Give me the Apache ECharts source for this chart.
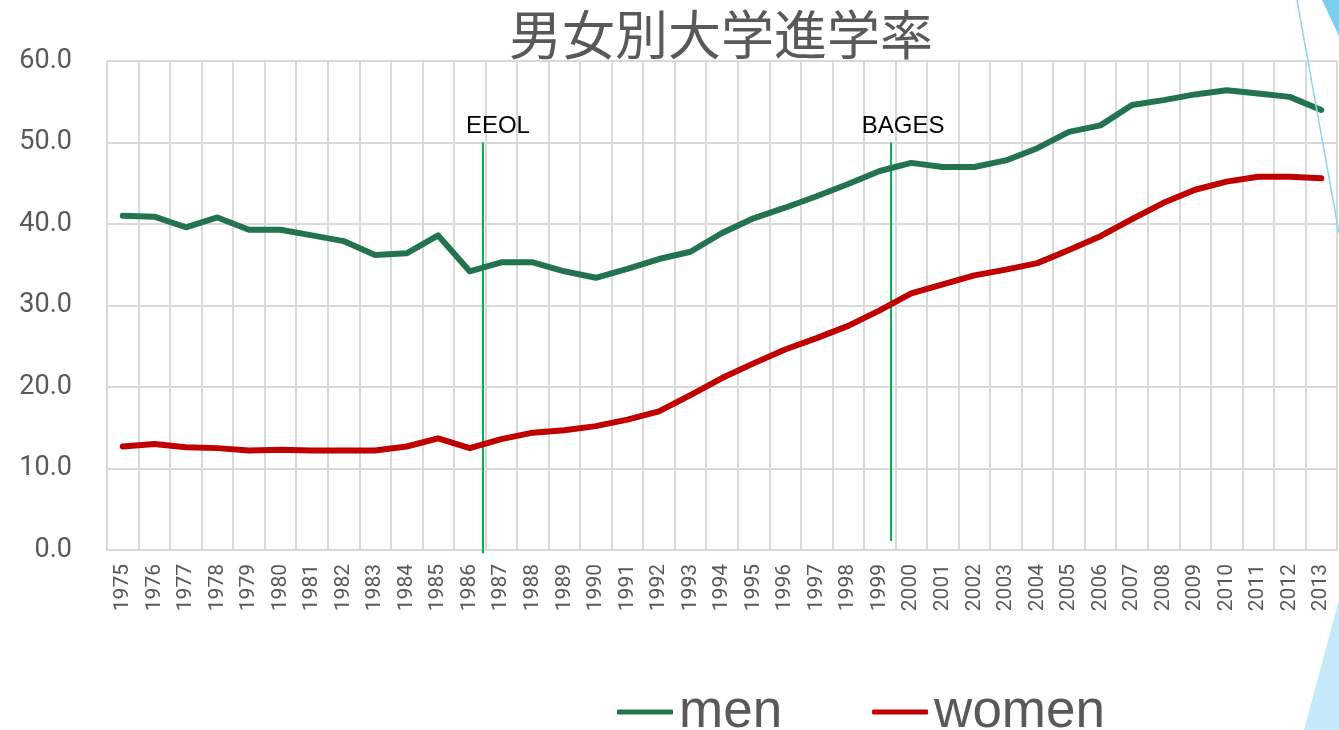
<!DOCTYPE html>
<html>
<head>
<meta charset="utf-8">
<script src="https://cdn.jsdelivr.net/npm/echarts@6/dist/echarts.min.js"></script>
<style>
html,body{margin:0;padding:0;background:#fff;}
#chart{width:1339px;height:730px;}
</style>
</head>
<body>
<div id="chart"></div>
<script>
const titleText = '男女別大学進学率';
const years = ['1975','1976','1977','1978','1979','1980','1981','1982','1983','1984','1985','1986','1987','1988','1989','1990','1991','1992','1993','1994','1995','1996','1997','1998','1999','2000','2001','2002','2003','2004','2005','2006','2007','2008','2009','2010','2011','2012','2013'];
const men = [41.0,40.9,39.6,40.8,39.3,39.3,38.6,37.9,36.2,36.4,38.6,34.2,35.3,35.3,34.2,33.4,34.5,35.7,36.6,38.9,40.7,42.0,43.4,44.9,46.5,47.5,47.0,47.0,47.8,49.3,51.3,52.1,54.6,55.2,55.9,56.4,56.0,55.6,54.0];
const women = [12.7,13.0,12.6,12.5,12.2,12.3,12.2,12.2,12.2,12.7,13.7,12.5,13.6,14.4,14.7,15.2,16.0,17.0,19.0,21.1,22.9,24.6,26.0,27.5,29.4,31.5,32.6,33.7,34.4,35.2,36.8,38.5,40.6,42.6,44.2,45.2,45.8,45.8,45.6];
const yTicks = {min: 0, max: 60, interval: 10};
// vertical event markers: [label, fractional year position, bottom value, top value]
const markerEEOL = ['EEOL', 1986.42, -0.4, 50];
const markerBAGES = ['BAGES', 1999.36, 1.1, 50];

const chart = echarts.init(document.getElementById('chart'));
const gray = '#595959';

function markerSeries(m, offX) {
  return {
    type: 'line',
    xAxisIndex: 1,
    yAxisIndex: 0,
    clip: false,
    silent: true,
    symbol: 'circle',
    symbolSize: 0,
    lineStyle: {color: '#00b050', width: 2},
    itemStyle: {color: '#00b050'},
    z: 1,
    data: [
      {value: [m[1], m[2]]},
      {value: [m[1], m[3]], label: {show: true, formatter: m[0], position: 'top', distance: 4, offset: [offX, 0], color: '#000', fontSize: 24, fontFamily: 'Liberation Sans, Arial, sans-serif'}}
    ]
  };
}

chart.setOption({
  animation: false,
  backgroundColor: '#fff',
  title: {
    text: titleText,
    left: 504,
    top: 3,
    textStyle: {fontSize: 53, fontWeight: 'normal', color: gray, fontFamily: 'Noto Sans CJK JP, sans-serif'}
  },
  legend: {
    data: ['men', 'women'],
    left: 612,
    top: 679,
    icon: 'roundRect',
    itemWidth: 56,
    itemHeight: 5,
    itemGap: 90,
    textStyle: {fontSize: 53, color: gray, fontFamily: 'Liberation Sans, Arial, sans-serif', lineHeight: 56, padding: [0, 0, 0, 1]}
  },
  grid: {left: 107, right: 2, top: 61, bottom: 180, containLabel: false},
  xAxis: [{
    type: 'category',
    data: years,
    boundaryGap: true,
    axisLine: {show: true, lineStyle: {color: '#d9d9d9', width: 1.5}},
    axisTick: {show: false},
    splitLine: {show: true, lineStyle: {color: '#d9d9d9', width: 2}},
    axisLabel: {rotate: 90, interval: 0, fontSize: 21, color: gray, margin: 14, fontFamily: 'Roboto, sans-serif'}
  }, {
    type: 'value',
    show: false,
    min: 1974.5,
    max: 2013.5,
    splitLine: {show: false}
  }],
  yAxis: {
    type: 'value',
    min: yTicks.min,
    max: yTicks.max,
    interval: yTicks.interval,
    axisLine: {show: false},
    axisTick: {show: false},
    splitLine: {show: true, lineStyle: {color: '#d9d9d9', width: 2}},
    axisLabel: {fontSize: 27, color: gray, margin: 35, fontFamily: 'Roboto, sans-serif', formatter: v => v.toFixed(1)}
  },
  series: [
    {
      name: 'men', type: 'line', data: men, symbol: 'none', smooth: false,
      lineStyle: {color: '#237350', width: 6, cap: 'round', join: 'round'},
      itemStyle: {color: '#237350'}, z: 3
    },
    {
      name: 'women', type: 'line', data: women, symbol: 'none', smooth: false,
      lineStyle: {color: '#c00000', width: 6, cap: 'round', join: 'round'},
      itemStyle: {color: '#c00000'}, z: 3
    },
    markerSeries(markerEEOL, 15),
    markerSeries(markerBAGES, 12)
  ],
  graphic: [
    {type: 'line', silent: true, shape: {x1: 1297, y1: 0, x2: 1339, y2: 233}, style: {stroke: '#8fd3f0', lineWidth: 1.5}, z: 10},
    {type: 'polygon', silent: true, shape: {points: [[1322, 0], [1339, 0], [1339, 36]]}, style: {fill: '#7fcdee'}, z: 10},
    {type: 'polygon', silent: true, shape: {points: [[1304, 730], [1339, 730], [1339, 600]]}, style: {fill: '#c5e9f8'}, z: 10}
  ]
});
</script>
</body>
</html>
